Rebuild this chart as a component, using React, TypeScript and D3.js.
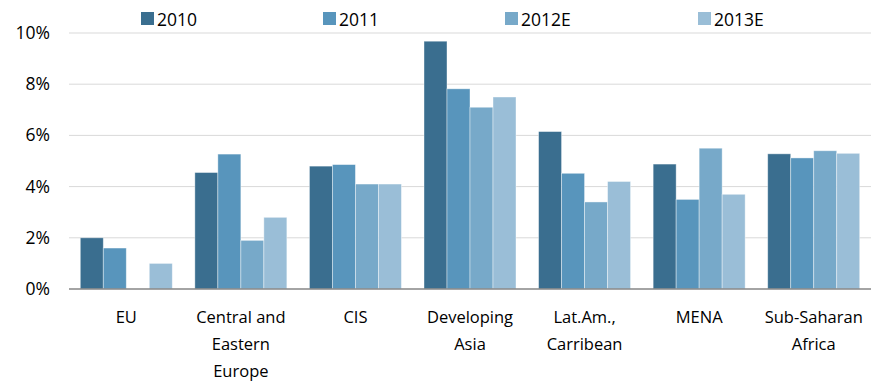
import React from "react";
import * as d3 from "d3";

const regions = [
  ["EU"],
  ["Central and", "Eastern", "Europe"],
  ["CIS"],
  ["Developing", "Asia"],
  ["Lat.Am.,", "Carribean"],
  ["MENA"],
  ["Sub-Saharan", "Africa"],
];
const seriesNames = ["2010", "2011", "2012E", "2013E"];
const values2010 = [2.0, 4.55, 4.8, 9.68, 6.15, 4.88, 5.28];
const values2011 = [1.6, 5.27, 4.86, 7.82, 4.52, 3.5, 5.12];
const values2012E = [null, 1.9, 4.1, 7.1, 3.4, 5.5, 5.4];
const values2013E = [1.0, 2.8, 4.1, 7.5, 4.2, 3.7, 5.3];
const yTicks = [0, 2, 4, 6, 8, 10];
const colors = ["#3a6e8f", "#5895bc", "#77a9c9", "#9abed7"];

const W = 876;
const H = 383;
const left = 69;
const right = 871;
const top = 33;
const bottom = 289;
const font = "'Open Sans', 'Noto Sans', sans-serif";

export default function App() {
  const series = [values2010, values2011, values2012E, values2013E];
  const x = d3
    .scaleBand<number>()
    .domain(d3.range(regions.length))
    .range([left, right])
    .paddingInner(0.197)
    .paddingOuter(0.0985);
  const xs = d3
    .scaleBand<number>()
    .domain(d3.range(seriesNames.length))
    .range([0, x.bandwidth()]);
  const y = d3.scaleLinear().domain([0, 10]).range([bottom, top]);

  const legendX = [141, 323, 505, 698];

  return (
    <svg width={W} height={H} style={{ position: "absolute", left: 0, top: 0 }}>
      <rect width={W} height={H} fill="#fff" />
      {yTicks.map((t) => (
        <g key={t}>
          {t > 0 && (
            <line x1={left} x2={right} y1={y(t)} y2={y(t)} stroke="#d9d9d9" strokeWidth={1} />
          )}
          <text
            x={50}
            y={y(t) + 6}
            textAnchor="end"
            fontFamily={font}
            fontSize={17.5}
            fill="#000"
          >
            {t}%
          </text>
        </g>
      ))}
      {series.map((vals, s) =>
        vals.map((v, i) =>
          v == null ? null : (
            <rect
              key={`${s}-${i}`}
              x={(x(i) as number) + (xs(s) as number)}
              y={y(v)}
              width={xs.bandwidth()}
              height={y(0) - y(v)}
              fill={colors[s]}
              stroke="#ffffff"
              strokeOpacity={0.5}
              strokeWidth={0.8}
            />
          )
        )
      )}
      <line x1={left} x2={right} y1={y(0)} y2={y(0)} stroke="#868686" strokeWidth={1.3} />
      {regions.map((lines, i) => (
        <text
          key={i}
          x={(x(i) as number) + x.bandwidth() / 2}
          y={323}
          textAnchor="middle"
          fontFamily={font}
          fontSize={16.5}
          fill="#000"
        >
          {lines.map((l, j) => (
            <tspan key={j} x={(x(i) as number) + x.bandwidth() / 2} dy={j === 0 ? 0 : 27}>
              {l}
            </tspan>
          ))}
        </text>
      ))}
      {seriesNames.map((n, s) => (
        <g key={n}>
          <rect x={legendX[s]} y={12} width={13} height={13} fill={colors[s]} />
          <text x={legendX[s] + 16} y={25.5} fontFamily={font} fontSize={17.5} fill="#000">
            {n}
          </text>
        </g>
      ))}
    </svg>
  );
}
